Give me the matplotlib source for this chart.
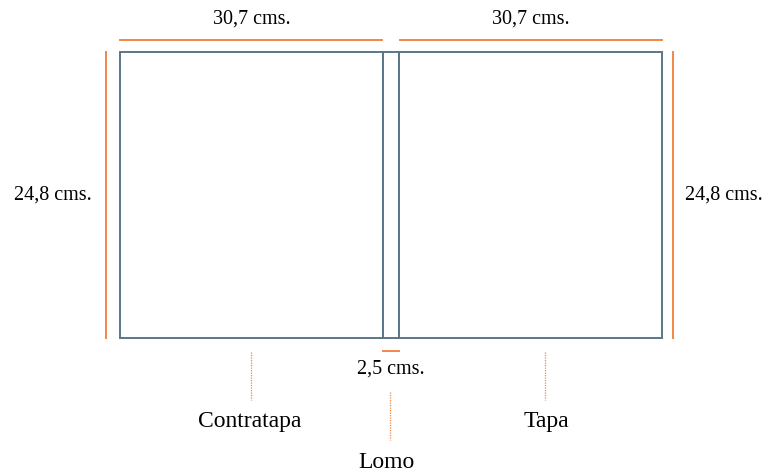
import matplotlib

matplotlib.use("Agg")
import matplotlib.pyplot as plt
from matplotlib.patches import Rectangle

# medidas del libro (cm) y etiquetas
widths_cm = [30.7, 2.5, 30.7]          # contratapa, lomo, tapa
height_cm = 24.8
parts = ["Contratapa", "Lomo", "Tapa"]

# escala de dibujo (px por cm, no proporcional: es un esquema)
sx_cover, sx_spine, sy = 263 / 30.7, 16 / 2.5, 286 / 24.8
x0, y0 = 120, 52

ORANGE = "#F0874A"
EDGE = "#5A7888"
plt.rcParams["font.family"] = ["Liberation Serif", "DejaVu Serif"]

fig = plt.figure(figsize=(7.64, 4.74), dpi=100)
ax = fig.add_axes([0, 0, 1, 1])
ax.set_xlim(0, 764)
ax.set_ylim(474, 0)
ax.axis("off")

# paneles
px_w = [widths_cm[0] * sx_cover, widths_cm[1] * sx_spine, widths_cm[2] * sx_cover]
h = height_cm * sy
edges = [x0]
for w in px_w:
    ax.add_patch(Rectangle((edges[-1], y0), w, h, fill=False, ec=EDGE, lw=1.4))
    edges.append(edges[-1] + w)
y1 = y0 + h
fs = 14.5

# cotas superiores
for i in (0, 2):
    a, b = edges[i], edges[i + 1]
    ax.plot([a + (1 if i == 2 else 0), b - (1 if i == 0 else 0)], [40, 40], color=ORANGE, lw=1.4)
    ax.text((a + b) / 2, 19, f"{widths_cm[i]:.1f}".replace(".", ",") + " cms.", ha="center", va="center", fontsize=fs)

# cotas laterales
hl = f"{height_cm:.1f}".replace(".", ",") + " cms."
ax.plot([106, 106], [y0, y1], color=ORANGE, lw=1.4)
ax.text(53, 195, hl, ha="center", va="center", fontsize=fs)
ax.plot([673, 673], [y0, y1], color=ORANGE, lw=1.4)
ax.text(724, 195, hl, ha="center", va="center", fontsize=fs)

# cota del lomo
ax.plot([edges[1], edges[2]], [351, 351], color=ORANGE, lw=1.4)
mid_spine = (edges[1] + edges[2]) / 2
ax.text(mid_spine, 369, f"{widths_cm[1]:.1f}".replace(".", ",") + " cms.", ha="center", va="center", fontsize=fs)

# etiquetas con líneas punteadas
dot_x = [251, mid_spine - 1, 545]
label_x = [250, 386, 546]
dots = [(352, 400), (392, 440), (352, 400)]
label_y = [421, 462, 421]
for name, xd, xl, (ya, yb), yl in zip(parts, dot_x, label_x, dots, label_y):
    ax.plot([xd, xd], [ya, yb], color=ORANGE, lw=0.9, ls=(0, (1, 1)))
    ax.text(xl, yl, name, ha="center", va="center", fontsize=17)

fig.savefig("out.png", dpi=100)
